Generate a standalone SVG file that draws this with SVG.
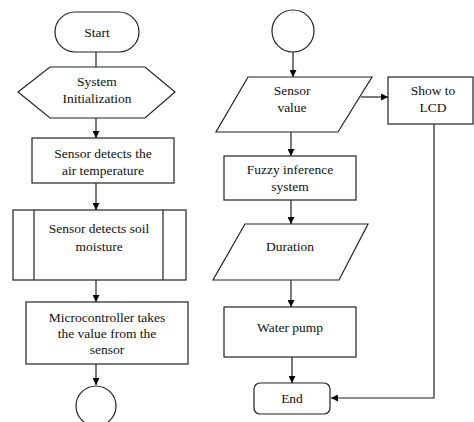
<svg xmlns="http://www.w3.org/2000/svg" width="474" height="422" viewBox="0 0 474 422">
<defs>
<marker id="ah" viewBox="0 0 10 10" refX="10" refY="5" markerWidth="7" markerHeight="7" markerUnits="userSpaceOnUse" orient="auto">
<path d="M0,0 L10,5 L0,10 z" fill="#000"/>
</marker>
</defs>
<rect width="474" height="422" fill="#fff"/>
<g id="connectors" fill="none" stroke="#222" stroke-width="1.2">
<line x1="96" y1="52" x2="96" y2="67"/>
<line x1="96" y1="118" x2="96" y2="138" marker-end="url(#ah)"/>
<line x1="96" y1="183" x2="96" y2="210" marker-end="url(#ah)"/>
<line x1="96" y1="280" x2="96" y2="302" marker-end="url(#ah)"/>
<line x1="96" y1="364" x2="96" y2="385" marker-end="url(#ah)"/>
<line x1="293" y1="52" x2="293" y2="77" marker-end="url(#ah)"/>
<line x1="361" y1="97" x2="388" y2="97" marker-end="url(#ah)"/>
<line x1="291" y1="132" x2="291" y2="156" marker-end="url(#ah)"/>
<line x1="291" y1="200" x2="291" y2="224" marker-end="url(#ah)"/>
<line x1="291" y1="280" x2="291" y2="307" marker-end="url(#ah)"/>
<line x1="292" y1="357" x2="292" y2="383" marker-end="url(#ah)"/>
<polyline points="434,124 434,398 331,398" marker-end="url(#ah)"/>
</g>
<g id="start">
<rect x="55" y="12" width="84" height="40" rx="20" fill="#fff" stroke="#222" stroke-width="1.2"/>
<text x="97" y="37" font-family="Liberation Serif" font-size="13.5" text-anchor="middle" fill="#111">Start</text>
</g>
<g id="init">
<polygon points="18,92 50,67 145,67 175,92 145,118 50,118" fill="#fff" stroke="#222" stroke-width="1.2"/>
<text x="97" y="86" font-family="Liberation Serif" font-size="13.5" text-anchor="middle" fill="#111">System</text>
<text x="97" y="103" font-family="Liberation Serif" font-size="13.5" text-anchor="middle" fill="#111">Initialization</text>
</g>
<g id="airtemp">
<rect x="32" y="138" width="142" height="45" fill="#fff" stroke="#222" stroke-width="1.2"/>
<text x="103" y="158" font-family="Liberation Serif" font-size="13.5" text-anchor="middle" fill="#111">Sensor detects the</text>
<text x="103" y="175" font-family="Liberation Serif" font-size="13.5" text-anchor="middle" fill="#111">air temperature</text>
</g>
<g id="soil">
<rect x="13" y="210" width="173" height="70" fill="#fff" stroke="#222" stroke-width="1.2"/>
<line x1="34" y1="210" x2="34" y2="280" stroke="#222" stroke-width="1.2"/>
<line x1="163" y1="210" x2="163" y2="280" stroke="#222" stroke-width="1.2"/>
<text x="99" y="233" font-family="Liberation Serif" font-size="13.5" text-anchor="middle" fill="#111">Sensor detects soil</text>
<text x="99" y="251" font-family="Liberation Serif" font-size="13.5" text-anchor="middle" fill="#111">moisture</text>
</g>
<g id="micro">
<rect x="26" y="302" width="162" height="62" fill="#fff" stroke="#222" stroke-width="1.2"/>
<text x="107" y="322" font-family="Liberation Serif" font-size="13.5" text-anchor="middle" fill="#111">Microcontroller takes</text>
<text x="107" y="338" font-family="Liberation Serif" font-size="13.5" text-anchor="middle" fill="#111">the value from the</text>
<text x="107" y="354" font-family="Liberation Serif" font-size="13.5" text-anchor="middle" fill="#111">sensor</text>
</g>
<g id="connA">
<circle cx="96" cy="406" r="20" fill="#fff" stroke="#222" stroke-width="1.2"/>
</g>
<g id="connB">
<circle cx="293" cy="31" r="21" fill="#fff" stroke="#222" stroke-width="1.2"/>
</g>
<g id="sensorvalue">
<polygon points="248,77 372,77 338,132 216,132" fill="#fff" stroke="#222" stroke-width="1.2"/>
<text x="292" y="95" font-family="Liberation Serif" font-size="13.5" text-anchor="middle" fill="#111">Sensor</text>
<text x="292" y="112" font-family="Liberation Serif" font-size="13.5" text-anchor="middle" fill="#111">value</text>
</g>
<g id="lcd">
<rect x="388" y="77" width="85" height="47" fill="#fff" stroke="#222" stroke-width="1.2"/>
<text x="433" y="95" font-family="Liberation Serif" font-size="13.5" text-anchor="middle" fill="#111">Show to</text>
<text x="433" y="112" font-family="Liberation Serif" font-size="13.5" text-anchor="middle" fill="#111">LCD</text>
</g>
<g id="fuzzy">
<rect x="224" y="156" width="132" height="44" fill="#fff" stroke="#222" stroke-width="1.2"/>
<text x="290" y="174" font-family="Liberation Serif" font-size="13.5" text-anchor="middle" fill="#111">Fuzzy inference</text>
<text x="290" y="191" font-family="Liberation Serif" font-size="13.5" text-anchor="middle" fill="#111">system</text>
</g>
<g id="duration">
<polygon points="245,224 368,224 339,280 213,280" fill="#fff" stroke="#222" stroke-width="1.2"/>
<text x="290" y="251" font-family="Liberation Serif" font-size="13.5" text-anchor="middle" fill="#111">Duration</text>
</g>
<g id="pump">
<rect x="224" y="307" width="132" height="50" fill="#fff" stroke="#222" stroke-width="1.2"/>
<text x="290" y="332" font-family="Liberation Serif" font-size="13.5" text-anchor="middle" fill="#111">Water pump</text>
</g>
<g id="end">
<rect x="254" y="383" width="76" height="31" rx="6" fill="#fff" stroke="#222" stroke-width="1.2"/>
<text x="292" y="403" font-family="Liberation Serif" font-size="13.5" text-anchor="middle" fill="#111">End</text>
</g>
</svg>
